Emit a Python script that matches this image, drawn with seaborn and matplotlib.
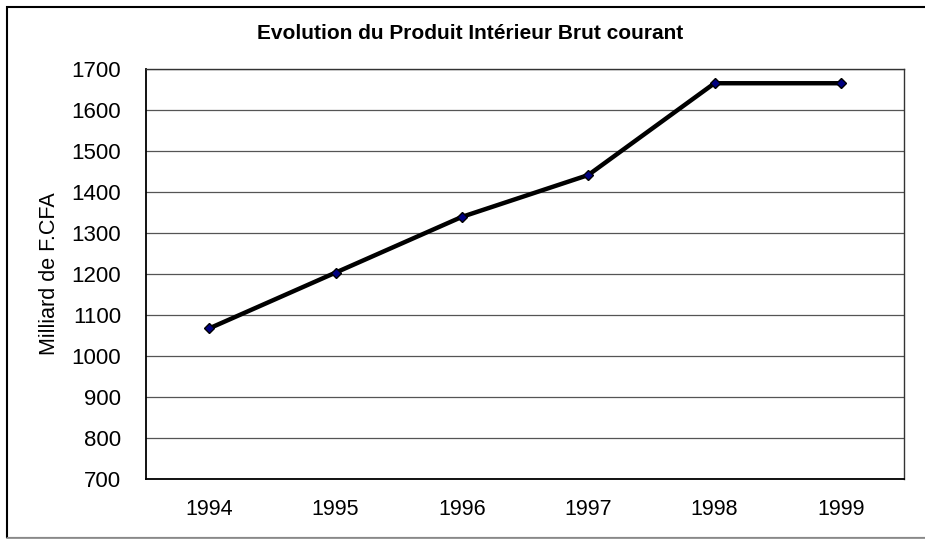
import pandas as pd
import matplotlib.pyplot as plt
import seaborn as sns
from matplotlib.patches import Rectangle
from matplotlib.lines import Line2D

# data
years = ['1994', '1995', '1996', '1997', '1998', '1999']
pib = [1068, 1204, 1340, 1442, 1666, 1666]

df = pd.DataFrame({'Annee': years, 'PIB': pib})

sns.set_style('white')
plt.rcParams['font.family'] = ['Liberation Sans', 'DejaVu Sans']
plt.rcParams['text.color'] = 'black'
plt.rcParams['axes.labelcolor'] = 'black'
plt.rcParams['xtick.color'] = 'black'
plt.rcParams['ytick.color'] = 'black'

fig = plt.figure(figsize=(9.25, 5.39), dpi=100)
ax = fig.add_axes([146 / 925, 1 - 479.3 / 539, (904 - 146) / 925, (479.3 - 69.3) / 539])

sns.lineplot(data=df, x='Annee', y='PIB', sort=False, ax=ax,
             color='black', linewidth=3.2, marker='D', markersize=5.5,
             markerfacecolor='#000080', markeredgecolor='black', markeredgewidth=1.0)

ax.set_xlim(-0.5, len(years) - 0.5)
ax.set_ylim(700, 1700)
ax.set_yticks(range(700, 1701, 100))
ax.yaxis.grid(True, color='#555555', linewidth=0.9)
ax.set_axisbelow(True)

# category labels in the middle, tick marks between categories
ax.set_xticks([i - 0.5 for i in range(len(years) + 1)])
ax.set_xticklabels([])
ax.set_xticks(range(len(years)), minor=True)
ax.set_xticklabels(years, minor=True, fontsize=15.5)
ax.tick_params(axis='x', which='major', direction='out', length=5, width=0.9, color='black')
ax.tick_params(axis='x', which='minor', length=0, pad=14)
ax.tick_params(axis='y', direction='out', length=8, width=0.9, labelsize=16, pad=10)

for side in ['left', 'bottom']:
    ax.spines[side].set_color('black')
    ax.spines[side].set_linewidth(1.3)
for side in ['top', 'right']:
    ax.spines[side].set_color('#333333')
    ax.spines[side].set_linewidth(1.0)

ax.set_xlabel('')
ax.set_ylabel('')
fig.text(50 / 925, 1 - 274 / 539, 'Milliard de F.CFA', rotation=90,
         ha='center', va='center', fontsize=15.5)
fig.text(470 / 925, 1 - 39 / 539, 'Evolution du Produit Intérieur Brut courant',
         ha='center', va='baseline', fontsize=15, fontweight='bold')

# chart area border
fig.patches.append(Rectangle((7 / 925, 1.5 / 539), 1.1, 1 - 8.5 / 539,
                             transform=fig.transFigure, fill=False,
                             edgecolor='black', linewidth=1.5))
fig.lines.append(Line2D([7 / 925, 1], [1.5 / 539, 1.5 / 539],
                        transform=fig.transFigure, color='#999999', linewidth=2))

fig.savefig('out.png', dpi=100)
